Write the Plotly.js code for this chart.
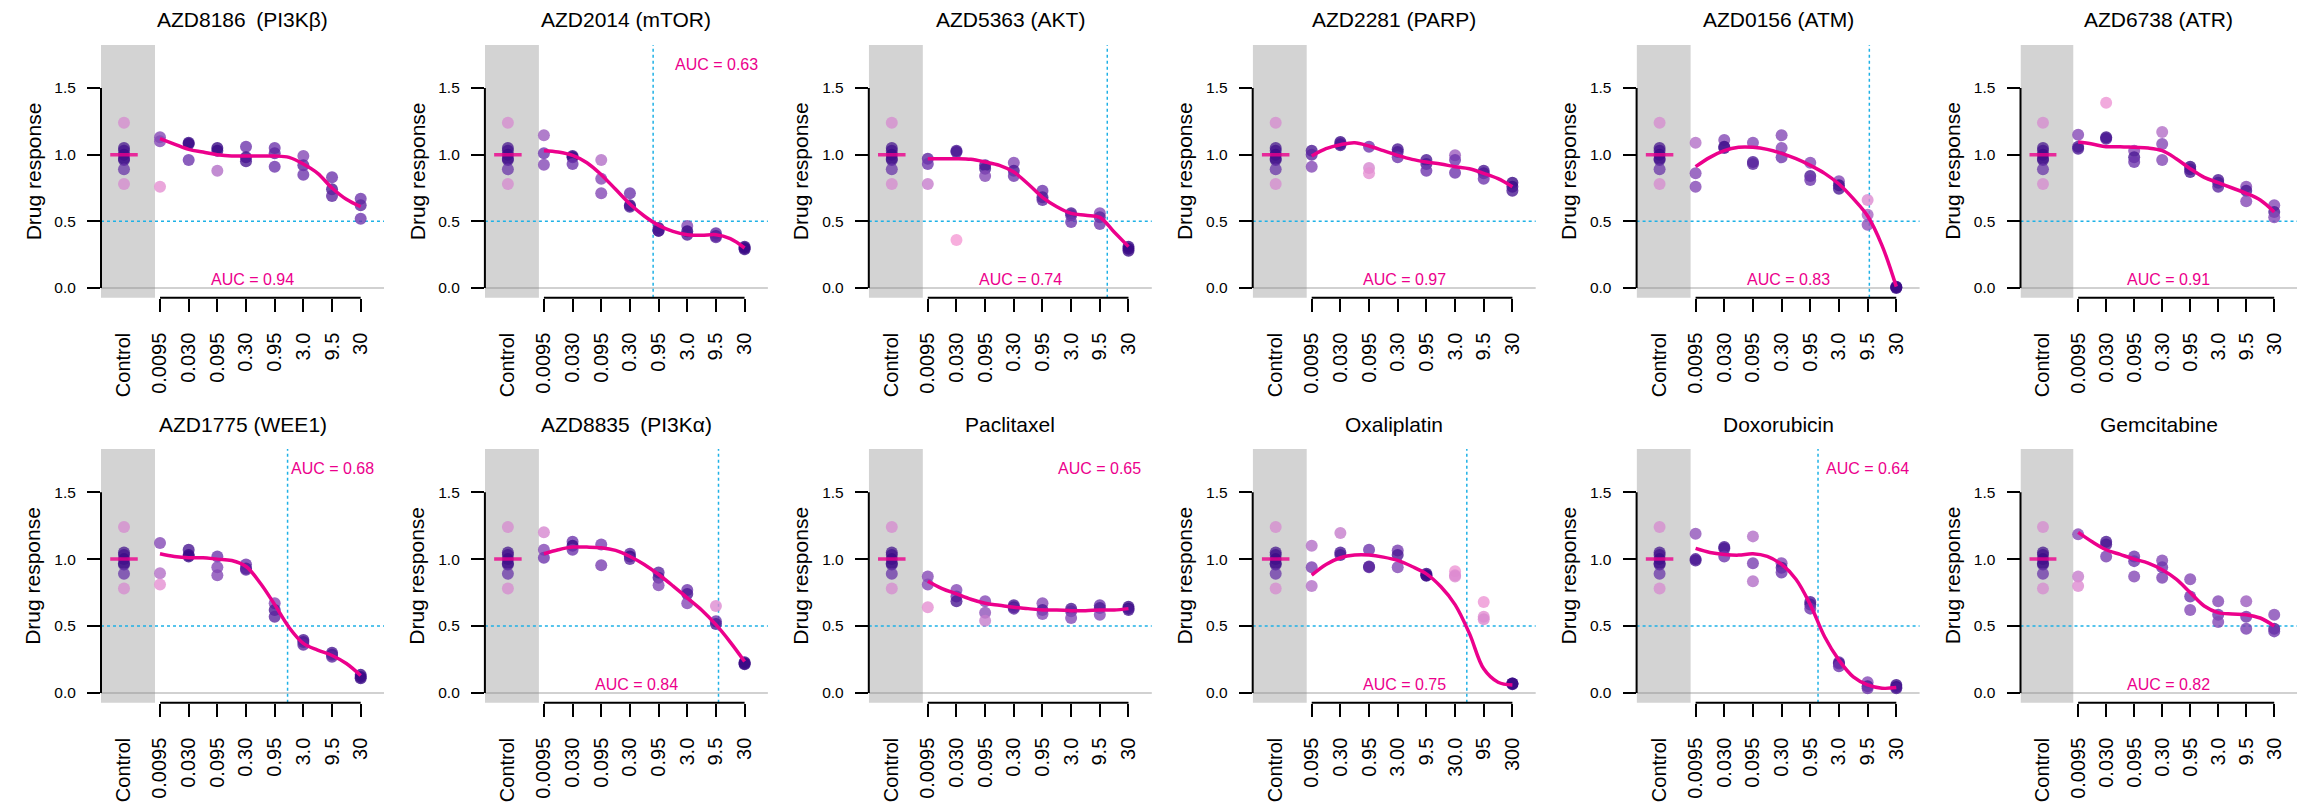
<!DOCTYPE html>
<html>
<head>
<meta charset="utf-8">
<script src="https://cdn.plot.ly/plotly-3.0.1.min.js"></script>
<style>
  html, body { margin: 0; padding: 0; background: #ffffff; }
  #chart { width: 2297px; height: 804px; }
</style>
</head>
<body>
<div id="chart"></div>
<script>
// ---- Data -------------------------------------------------------------

const drugs = [
  'AZD8186\u2002(PI3K\u03b2)', 'AZD2014 (mTOR)', 'AZD5363 (AKT)', 'AZD2281 (PARP)',
  'AZD0156 (ATM)', 'AZD6738 (ATR)', 'AZD1775 (WEE1)', 'AZD8835\u2002(PI3K\u03b1)',
  'Paclitaxel', 'Oxaliplatin', 'Doxorubicin', 'Gemcitabine'
];

const stdDoses = ['0.0095', '0.030', '0.095', '0.30', '0.95', '3.0', '9.5', '30'];
const oxaliplatinDoses = ['0.095', '0.30', '0.95', '3.00', '9.5', '30.0', '95', '300'];
const doseLabels = [
  stdDoses, stdDoses, stdDoses, stdDoses, stdDoses, stdDoses,
  stdDoses, stdDoses, stdDoses, oxaliplatinDoses, stdDoses, stdDoses
];

// untreated wells (shared by every drug)
const controlResponse = [1.24, 1.05, 1.03, 1.00, 0.97, 0.96, 0.89, 0.78];
const controlWeight   = [0.2, 0.95, 0.95, 1, 1, 0.95, 0.75, 0.2];
const controlLevel = 1.0;

// replicate responses per dose (8 doses per drug)
const responses = [
  [[1.13,1.10,0.76],[1.09,1.08,0.96],[1.05,1.03,0.88],[1.06,0.98,0.95],[1.05,1.01,0.91],[0.99,0.92,0.85],[0.83,0.74,0.69],[0.67,0.62,0.52]],
  [[1.145,1.01,0.925],[0.99,0.98,0.93],[0.96,0.82,0.71],[0.71,0.62,0.61],[0.45,0.43,0.43],[0.465,0.425,0.40],[0.41,0.39,0.38],[0.31,0.30,0.29]],
  [[0.97,0.93,0.78],[1.03,1.02,0.36],[0.92,0.895,0.84],[0.94,0.88,0.84],[0.73,0.68,0.66],[0.56,0.545,0.495],[0.56,0.53,0.48],[0.31,0.295,0.28]],
  [[1.03,1.0,0.91],[1.095,1.08,1.07],[1.06,0.9,0.86],[1.04,1.02,0.98],[0.96,0.93,0.88],[0.995,0.96,0.865],[0.88,0.86,0.82],[0.79,0.76,0.73]],
  [[1.09,0.86,0.76],[1.11,1.06,1.05],[1.09,0.945,0.93],[1.145,1.05,0.98],[0.94,0.84,0.81],[0.80,0.77,0.745],[0.66,0.55,0.475],[0.01,0.005,0.0]],
  [[1.15,1.06,1.045],[1.39,1.13,1.12],[1.03,0.98,0.945],[1.17,1.08,0.96],[0.91,0.89,0.87],[0.81,0.79,0.76],[0.76,0.73,0.65],[0.62,0.57,0.53]],
  [[1.12,0.895,0.81],[1.07,1.03,1.02],[1.02,0.94,0.88],[0.96,0.93,0.92],[0.67,0.62,0.57],[0.395,0.38,0.36],[0.30,0.285,0.27],[0.135,0.12,0.11]],
  [[1.20,1.07,1.01],[1.13,1.10,1.07],[1.11,0.955],[1.04,1.02,1.0],[0.9,0.86,0.805],[0.77,0.74,0.67],[0.65,0.535,0.515],[0.23,0.22,0.215]],
  [[0.87,0.81,0.64],[0.77,0.72,0.685],[0.685,0.60,0.54],[0.655,0.64,0.63],[0.67,0.62,0.59],[0.63,0.61,0.56],[0.655,0.635,0.585],[0.645,0.63,0.62]],
  [[1.10,0.94,0.80],[1.195,1.05,1.03],[1.07,0.945,0.94],[1.065,1.03,0.94],[0.89,0.88,0.875],[0.91,0.88,0.87],[0.68,0.57,0.55],[0.07,0.07,0.065]],
  [[1.19,1.0,0.99],[1.09,1.08,1.02],[1.17,0.97,0.835],[0.97,0.935,0.90],[0.68,0.66,0.63],[0.23,0.22,0.20],[0.08,0.05,0.035],[0.06,0.045,0.035]],
  [[1.185,0.87,0.80],[1.13,1.11,1.02],[1.02,0.985,0.87],[0.99,0.94,0.86],[0.85,0.72,0.62],[0.685,0.585,0.53],[0.685,0.57,0.48],[0.585,0.48,0.46]]
];

// robust-fit weight of each replicate (0 = down-weighted outlier, 1 = full weight)
const weights = [
  [[0.6,0.6,0.1],[1,1,0.7],[1,1,0.4],[0.7,1,0.9],[0.7,0.8,0.7],[0.6,0.8,0.7],[0.7,0.9,0.8],[0.7,0.8,0.7]],
  [[0.5,0.7,0.6],[1,1,0.7],[0.4,0.6,0.6],[0.7,1,0.9],[1,1,0.9],[0.6,1,0.9],[0.8,0.9,0.8],[1,1,1]],
  [[0.8,0.7,0.3],[0.9,0.9,0],[0.9,0.9,0.6],[0.6,0.9,0.7],[0.7,0.9,0.8],[0.9,0.8,0.7],[0.6,0.8,0.7],[1,1,1]],
  [[0.9,0.8,0.6],[1,0.9,0.9],[0.7,0.2,0.1],[0.9,0.9,0.7],[0.9,0.9,0.7],[0.5,0.7,0.7],[0.9,0.9,0.7],[1,1,0.9]],
  [[0.4,0.6,0.6],[0.6,1,0.9],[0.6,0.9,0.8],[0.6,0.6,0.7],[0.6,0.9,0.7],[0.6,1,0.9],[0.15,0.45,0.55],[1,1,1]],
  [[0.6,0.9,0.9],[0.05,1,0.9],[0.6,0.9,0.7],[0.4,0.6,0.6],[1,0.9,0.9],[0.9,0.9,0.8],[0.6,0.9,0.6],[0.6,0.9,0.6]],
  [[0.6,0.4,0.1],[0.9,1,1],[0.7,0.6,0.6],[0.7,0.9,0.8],[0.6,0.9,0.8],[0.9,0.9,0.8],[0.9,0.9,0.8],[1,1,1]],
  [[0.2,0.6,0.7],[0.7,1,0.7],[0.65,0.65],[0.8,1,0.8],[0.8,0.9,0.6],[0.7,0.9,0.6],[0.15,0.7,0.9],[1,1,1]],
  [[0.6,0.6,0.1],[0.6,0.7,0.9],[0.6,0.55,0.3],[0.9,0.9,0.8],[0.6,0.9,0.6],[0.9,0.8,0.6],[0.7,0.9,0.6],[1,1,0.9]],
  [[0.4,0.65,0.4],[0.3,0.9,0.9],[0.7,0.9,0.8],[0.65,0.9,0.6],[1,1,1],[0.05,0.15,0.15],[0.05,0.12,0.18],[1,1,1]],
  [[0.55,0.9,0.9],[0.9,0.9,0.7],[0.4,0.65,0.4],[0.6,0.9,0.7],[0.9,0.9,0.7],[0.8,0.9,0.7],[0.6,0.9,0.7],[1,1,0.9]],
  [[0.6,0.3,0.15],[0.9,0.9,0.65],[0.7,0.7,0.6],[0.6,0.7,0.65],[0.6,0.7,0.6],[0.6,0.7,0.6],[0.5,0.7,0.65],[0.6,0.9,0.7]]
];

// fitted dose-response curve sampled every half dose step (dose 1 .. dose 8)
const fitted = [
  [1.12,1.08,1.04,1.02,1.0,0.99,0.99,0.99,0.99,0.98,0.93,0.86,0.75,0.665,0.61],
  [1.03,1.02,0.995,0.94,0.85,0.74,0.63,0.54,0.47,0.425,0.40,0.395,0.40,0.37,0.30],
  [0.97,0.97,0.97,0.965,0.945,0.92,0.87,0.78,0.68,0.61,0.56,0.545,0.53,0.42,0.31],
  [0.99,1.045,1.075,1.09,1.065,1.03,0.995,0.965,0.945,0.93,0.91,0.895,0.86,0.82,0.76],
  [0.91,0.98,1.03,1.055,1.055,1.04,1.01,0.97,0.92,0.86,0.78,0.67,0.54,0.32,0.01],
  [1.095,1.08,1.06,1.06,1.055,1.05,1.03,0.97,0.895,0.83,0.79,0.75,0.71,0.66,0.57],
  [1.04,1.02,1.01,1.01,1.0,0.99,0.945,0.82,0.66,0.49,0.37,0.32,0.28,0.22,0.13],
  [1.04,1.07,1.09,1.09,1.085,1.065,1.02,0.96,0.885,0.80,0.71,0.62,0.51,0.38,0.235],
  [0.835,0.78,0.74,0.70,0.67,0.655,0.64,0.63,0.62,0.62,0.615,0.615,0.62,0.62,0.63],
  [0.88,0.96,1.01,1.03,1.03,1.015,0.99,0.945,0.89,0.795,0.66,0.445,0.18,0.08,0.06],
  [1.08,1.05,1.035,1.03,1.04,1.02,0.96,0.85,0.66,0.42,0.245,0.12,0.06,0.035,0.04],
  [1.20,1.13,1.07,1.035,1.0,0.97,0.92,0.85,0.75,0.65,0.60,0.59,0.585,0.56,0.50]
];

// dose position (in dose steps) where the fit crosses 0.5, if inside the tested range
const ic50Position = [null, 4.81, 7.26, null, 7.06, null, 5.45, 7.09, null, 6.41, 5.27, null];

const auc = [0.94, 0.63, 0.74, 0.97, 0.83, 0.91, 0.68, 0.84, 0.65, 0.75, 0.64, 0.82];

// ---- Layout constants --------------------------------------------------

const W = 2297, H = 804;
const FONT = 'Liberation Sans, Arial, Helvetica, sans-serif';
const PINK = '#EC008C';
const CYAN = '#1FB1E6';
const xRange = [-1.058, 8.813];
const yRange = [-0.073, 1.823];
const controlX = -0.256;        // where the control column sits
const controlBandRight = 0.826; // right edge of the grey control band
const aucAtTop = [false, true, false, false, false, false, true, false, true, false, true, false];

const plotWidthPx = 283;
const colLeftPx = c => 101 + 383.9 * c;
const rowDomains = [
  [1 - 297.7 / H, 1 - 45 / H],
  [1 - 702.7 / H, 1 - 449 / H]
];

const colorscale = [
  [0.0, '#F59AD5'],
  [0.35, '#BE78CB'],
  [0.7, '#6E36AC'],
  [1.0, '#3A0A86']
];

const traces = [];
const shapes = [];
const annotations = [];
const layout = {
  width: W, height: H,
  margin: { l: 0, r: 0, t: 0, b: 0 },
  paper_bgcolor: '#ffffff',
  plot_bgcolor: 'rgba(0,0,0,0)',
  showlegend: false,
  font: { family: FONT, color: '#000000' }
};

const halfSteps = [];
for (let s = 1; s <= 8.0001; s += 0.5) halfSteps.push(s);

const xTickStyle = {
  ticks: 'outside', ticklen: 13, tickwidth: 2, ticklabelstandoff: 13,
  tickangle: -90, tickfont: { family: FONT, size: 20, color: '#000000' },
  showline: false, showgrid: false, zeroline: false, fixedrange: true
};

for (let k = 0; k < drugs.length; k++) {
  const row = Math.floor(k / 6), col = k % 6;
  const n = k + 1;
  const xa = n === 1 ? 'x' : 'x' + n;
  const ya = n === 1 ? 'y' : 'y' + n;
  const xc = 'x' + (n + 12);
  const xKey = n === 1 ? 'xaxis' : 'xaxis' + n;
  const yKey = n === 1 ? 'yaxis' : 'yaxis' + n;
  const left = colLeftPx(col);

  layout[xKey] = Object.assign({}, xTickStyle, {
    domain: [left / W, (left + plotWidthPx) / W],
    range: xRange, anchor: ya,
    tickmode: 'array', tickvals: [1, 2, 3, 4, 5, 6, 7, 8], ticktext: doseLabels[k],
    tickcolor: '#000000'
  });
  layout['xaxis' + (n + 12)] = Object.assign({}, xTickStyle, {
    overlaying: xa, anchor: ya, side: 'bottom',
    range: xRange,
    tickmode: 'array', tickvals: [controlX], ticktext: ['Control'],
    tickcolor: 'rgba(0,0,0,0)'
  });
  layout[yKey] = {
    domain: rowDomains[row], range: yRange, anchor: xa,
    tickmode: 'array', tickvals: [0, 0.5, 1, 1.5], ticktext: ['0.0', '0.5', '1.0', '1.5'],
    ticks: 'outside', ticklen: 13, tickwidth: 2, tickcolor: '#000000', ticklabelstandoff: 8,
    tickfont: { family: FONT, size: 15.5, color: '#000000' },
    showline: false, showgrid: false, zeroline: false, fixedrange: true
  };

  // grey control band
  shapes.push({ type: 'rect', layer: 'below', xref: xa, yref: ya + ' domain',
    x0: xRange[0], x1: controlBandRight, y0: 0, y1: 1,
    fillcolor: '#D3D3D3', line: { width: 0 } });
  // zero reference
  shapes.push({ type: 'line', layer: 'below', xref: xa + ' domain', yref: ya,
    x0: 0, x1: 1, y0: 0, y1: 0, line: { color: 'rgba(140,140,140,0.4)', width: 2 } });
  // half-response reference
  shapes.push({ type: 'line', layer: 'below', xref: xa + ' domain', yref: ya,
    x0: 0, x1: 1, y0: 0.5, y1: 0.5, line: { color: CYAN, width: 1.5, dash: 'dot' } });
  if (ic50Position[k] !== null) {
    shapes.push({ type: 'line', layer: 'below', xref: xa, yref: ya + ' domain',
      x0: ic50Position[k], x1: ic50Position[k], y0: 0, y1: 1,
      line: { color: CYAN, width: 1.5, dash: 'dot' } });
  }
  // axis lines spanning only the labelled ranges
  shapes.push({ type: 'line', layer: 'above', xref: xa + ' domain', yref: ya,
    x0: 0, x1: 0, y0: 0, y1: 1.5, line: { color: '#000000', width: 2 } });
  shapes.push({ type: 'line', layer: 'above', xref: xa, yref: ya + ' domain',
    x0: 1, x1: 8, y0: 0, y1: 0, line: { color: '#000000', width: 2 } });

  // control replicates
  traces.push({
    type: 'scatter', mode: 'markers', xaxis: xc, yaxis: ya,
    x: controlResponse.map(() => controlX), y: controlResponse,
    marker: { size: 12, color: controlWeight, colorscale: colorscale, cmin: 0, cmax: 1,
      opacity: 0.72, line: { width: 0 } },
    hoverinfo: 'skip'
  });
  traces.push({
    type: 'scatter', mode: 'lines', xaxis: xc, yaxis: ya,
    x: [controlX - 0.48, controlX + 0.48], y: [controlLevel, controlLevel],
    line: { color: PINK, width: 3.5 }, opacity: 0.8, hoverinfo: 'skip'
  });

  // treated replicates
  const px = [], py = [], pw = [];
  responses[k].forEach((reps, d) => {
    reps.forEach((v, r) => { px.push(d + 1); py.push(v); pw.push(weights[k][d][r]); });
  });
  traces.push({
    type: 'scatter', mode: 'markers', xaxis: xa, yaxis: ya,
    x: px, y: py,
    marker: { size: 12, color: pw, colorscale: colorscale, cmin: 0, cmax: 1,
      opacity: 0.8, line: { width: 0 } },
    hoverinfo: 'skip'
  });

  // fitted curve
  traces.push({
    type: 'scatter', mode: 'lines', xaxis: xa, yaxis: ya,
    x: halfSteps, y: fitted[k],
    line: { color: PINK, width: 3.5, shape: 'spline', smoothing: 1 },
    hoverinfo: 'skip'
  });

  // panel title
  annotations.push({
    xref: xa + ' domain', yref: ya + ' domain', x: 0.5, y: 1, yshift: 25,
    xanchor: 'center', yanchor: 'middle', showarrow: false,
    text: drugs[k], font: { family: FONT, size: 21, color: '#000000' }
  });
  // y-axis title
  annotations.push({
    xref: xa + ' domain', yref: ya + ' domain', x: 0, y: 0.5, xshift: -68,
    xanchor: 'center', yanchor: 'middle', textangle: -90, showarrow: false,
    text: 'Drug response', font: { family: FONT, size: 21, color: '#000000' }
  });
  // AUC label
  const aucText = 'AUC = ' + auc[k].toFixed(2);
  if (aucAtTop[k]) {
    annotations.push({ xref: xa, yref: ya, x: 8.52, y: 1.675,
      xanchor: 'right', yanchor: 'middle', showarrow: false,
      text: aucText, font: { family: FONT, size: 16, color: PINK } });
  } else {
    annotations.push({ xref: xa, yref: ya, x: 4.24, y: 0.065,
      xanchor: 'center', yanchor: 'middle', showarrow: false,
      text: aucText, font: { family: FONT, size: 16, color: PINK } });
  }
}

layout.shapes = shapes;
layout.annotations = annotations;

Plotly.newPlot('chart', traces, layout, { staticPlot: true, displayModeBar: false });
</script>
</body>
</html>
